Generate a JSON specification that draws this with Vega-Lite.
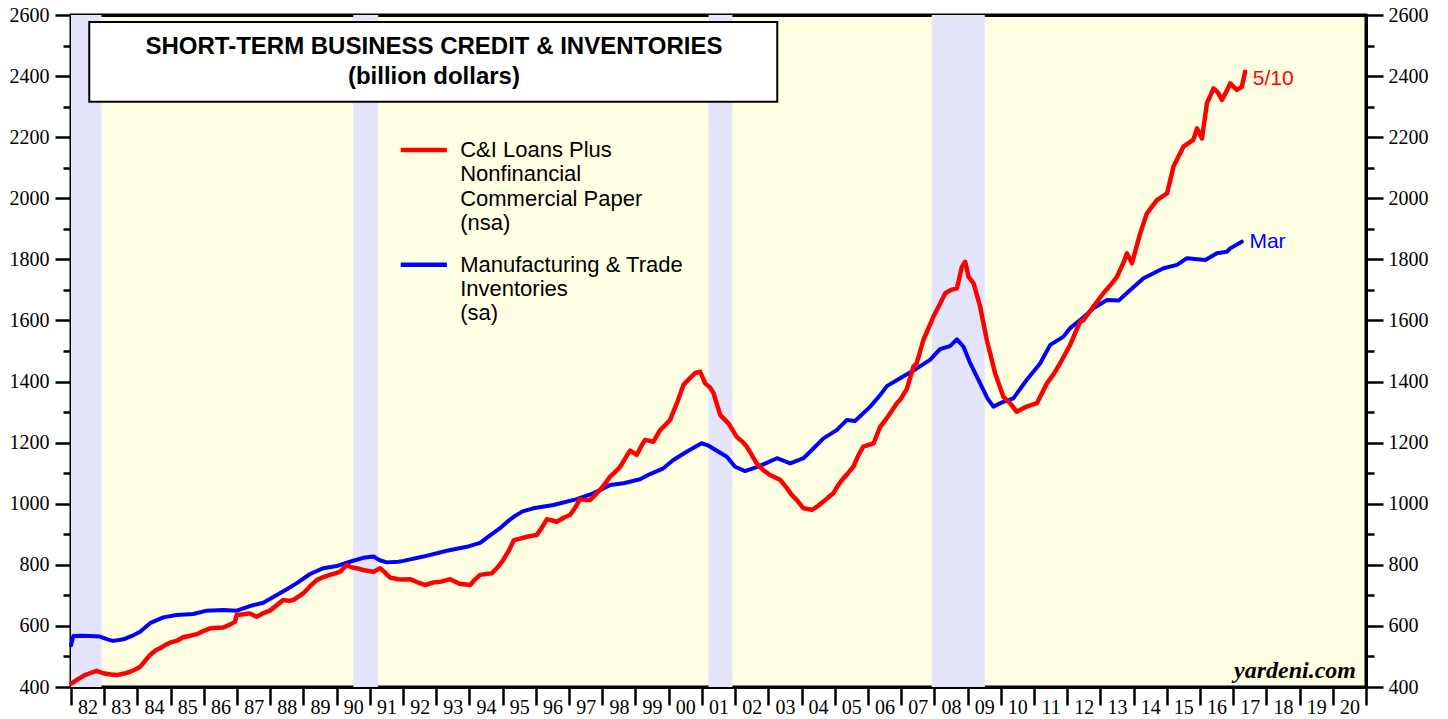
{
  "$schema": "https://vega.github.io/schema/vega-lite/v6.json",
  "width": 1295,
  "height": 672,
  "autosize": {"type": "none"},
  "padding": {"left": 71, "top": 15, "right": 82, "bottom": 32},
  "background": "white",
  "config": {
    "view": {"fill": "#FFFFE3", "stroke": "black", "strokeWidth": 3},
    "axis": {"zindex": 2, "grid": false, "domainColor": "black", "domainWidth": 3, "tickColor": "black", "tickWidth": 2.5, "labelColor": "black", "labelFont": "Liberation Serif", "labelFontSize": 20}
  },
  "resolve": {"axis": {"x": "independent", "y": "independent"}},
  "datasets": {
    "recessions": [
      {"start": 1982.0, "end": 1982.92},
      {"start": 1990.5, "end": 1991.25},
      {"start": 2001.2, "end": 2001.92},
      {"start": 2007.92, "end": 2009.52}
    ],
    "inventories": [
      {"t": 1982.0, "v": 537}, {"t": 1982.07, "v": 567}, {"t": 1982.3, "v": 568}, {"t": 1982.57, "v": 567}, {"t": 1982.87, "v": 565},
      {"t": 1983.1, "v": 556}, {"t": 1983.27, "v": 551}, {"t": 1983.58, "v": 556}, {"t": 1983.85, "v": 568}, {"t": 1984.08, "v": 581},
      {"t": 1984.38, "v": 609}, {"t": 1984.78, "v": 628}, {"t": 1985.18, "v": 636}, {"t": 1985.68, "v": 639}, {"t": 1986.09, "v": 650},
      {"t": 1986.59, "v": 652}, {"t": 1986.99, "v": 650}, {"t": 1987.39, "v": 665}, {"t": 1987.79, "v": 676}, {"t": 1988.2, "v": 701},
      {"t": 1988.5, "v": 720}, {"t": 1988.8, "v": 740}, {"t": 1989.2, "v": 770}, {"t": 1989.6, "v": 789}, {"t": 1990.0, "v": 796},
      {"t": 1990.4, "v": 810}, {"t": 1990.8, "v": 823}, {"t": 1991.11, "v": 827}, {"t": 1991.3, "v": 815}, {"t": 1991.51, "v": 808},
      {"t": 1991.86, "v": 810}, {"t": 1992.01, "v": 813}, {"t": 1992.61, "v": 827}, {"t": 1993.32, "v": 846}, {"t": 1993.92, "v": 859},
      {"t": 1994.32, "v": 872}, {"t": 1994.6, "v": 895}, {"t": 1994.92, "v": 920}, {"t": 1995.15, "v": 942}, {"t": 1995.37, "v": 960},
      {"t": 1995.6, "v": 975}, {"t": 1995.92, "v": 985}, {"t": 1996.53, "v": 996}, {"t": 1997.23, "v": 1015}, {"t": 1997.73, "v": 1034},
      {"t": 1998.23, "v": 1061}, {"t": 1998.64, "v": 1067}, {"t": 1999.14, "v": 1080}, {"t": 1999.44, "v": 1097}, {"t": 1999.84, "v": 1116},
      {"t": 2000.14, "v": 1143}, {"t": 2000.54, "v": 1170}, {"t": 2000.99, "v": 1198}, {"t": 2001.2, "v": 1190}, {"t": 2001.5, "v": 1170},
      {"t": 2001.75, "v": 1154}, {"t": 2002.0, "v": 1121}, {"t": 2002.3, "v": 1107}, {"t": 2002.75, "v": 1124}, {"t": 2003.26, "v": 1149},
      {"t": 2003.66, "v": 1132}, {"t": 2004.06, "v": 1149}, {"t": 2004.35, "v": 1180}, {"t": 2004.66, "v": 1214}, {"t": 2005.06, "v": 1241},
      {"t": 2005.36, "v": 1274}, {"t": 2005.61, "v": 1271}, {"t": 2006.07, "v": 1318}, {"t": 2006.37, "v": 1356}, {"t": 2006.57, "v": 1385},
      {"t": 2006.97, "v": 1411}, {"t": 2007.47, "v": 1443}, {"t": 2007.87, "v": 1471}, {"t": 2008.17, "v": 1506}, {"t": 2008.47, "v": 1516},
      {"t": 2008.68, "v": 1538}, {"t": 2008.88, "v": 1514}, {"t": 2009.08, "v": 1460}, {"t": 2009.38, "v": 1394}, {"t": 2009.6, "v": 1345},
      {"t": 2009.78, "v": 1318}, {"t": 2009.98, "v": 1329}, {"t": 2010.38, "v": 1345}, {"t": 2010.78, "v": 1405}, {"t": 2011.19, "v": 1460},
      {"t": 2011.49, "v": 1520}, {"t": 2011.89, "v": 1547}, {"t": 2012.09, "v": 1575}, {"t": 2012.39, "v": 1601}, {"t": 2012.79, "v": 1640},
      {"t": 2013.2, "v": 1667}, {"t": 2013.55, "v": 1665}, {"t": 2013.9, "v": 1700}, {"t": 2014.3, "v": 1738}, {"t": 2014.9, "v": 1771},
      {"t": 2015.31, "v": 1782}, {"t": 2015.61, "v": 1804}, {"t": 2016.16, "v": 1798}, {"t": 2016.51, "v": 1820}, {"t": 2016.81, "v": 1825},
      {"t": 2016.91, "v": 1836}, {"t": 2017.26, "v": 1858}
    ],
    "credit": [
      {"t": 1982.02, "v": 412}, {"t": 1982.2, "v": 425}, {"t": 1982.4, "v": 438}, {"t": 1982.57, "v": 445}, {"t": 1982.77, "v": 453},
      {"t": 1982.97, "v": 445}, {"t": 1983.2, "v": 441}, {"t": 1983.38, "v": 439}, {"t": 1983.6, "v": 444}, {"t": 1983.78, "v": 450},
      {"t": 1983.95, "v": 458}, {"t": 1984.08, "v": 466}, {"t": 1984.25, "v": 488}, {"t": 1984.38, "v": 505}, {"t": 1984.55, "v": 520},
      {"t": 1984.68, "v": 527}, {"t": 1984.85, "v": 538}, {"t": 1984.98, "v": 545}, {"t": 1985.2, "v": 552}, {"t": 1985.38, "v": 563},
      {"t": 1985.6, "v": 568}, {"t": 1985.79, "v": 573}, {"t": 1986.0, "v": 584}, {"t": 1986.19, "v": 592}, {"t": 1986.4, "v": 594},
      {"t": 1986.59, "v": 595}, {"t": 1986.8, "v": 605}, {"t": 1986.94, "v": 614}, {"t": 1986.99, "v": 636}, {"t": 1987.2, "v": 638},
      {"t": 1987.39, "v": 641}, {"t": 1987.59, "v": 630}, {"t": 1987.8, "v": 642}, {"t": 1987.99, "v": 650}, {"t": 1988.2, "v": 668},
      {"t": 1988.39, "v": 685}, {"t": 1988.55, "v": 682}, {"t": 1988.7, "v": 685}, {"t": 1988.85, "v": 696}, {"t": 1989.0, "v": 707},
      {"t": 1989.2, "v": 730}, {"t": 1989.4, "v": 750}, {"t": 1989.6, "v": 760}, {"t": 1989.8, "v": 767}, {"t": 1990.1, "v": 777},
      {"t": 1990.3, "v": 799}, {"t": 1990.45, "v": 792}, {"t": 1990.6, "v": 789}, {"t": 1990.8, "v": 783}, {"t": 1991.0, "v": 779},
      {"t": 1991.11, "v": 777}, {"t": 1991.31, "v": 789}, {"t": 1991.45, "v": 775}, {"t": 1991.61, "v": 758}, {"t": 1991.86, "v": 753},
      {"t": 1992.0, "v": 752}, {"t": 1992.21, "v": 753}, {"t": 1992.45, "v": 742}, {"t": 1992.66, "v": 734}, {"t": 1992.9, "v": 742},
      {"t": 1993.15, "v": 745}, {"t": 1993.42, "v": 753}, {"t": 1993.7, "v": 738}, {"t": 1994.02, "v": 734}, {"t": 1994.15, "v": 750},
      {"t": 1994.32, "v": 767}, {"t": 1994.5, "v": 770}, {"t": 1994.67, "v": 772}, {"t": 1994.85, "v": 792}, {"t": 1995.02, "v": 816},
      {"t": 1995.2, "v": 850}, {"t": 1995.34, "v": 881}, {"t": 1995.5, "v": 885}, {"t": 1995.73, "v": 892}, {"t": 1996.03, "v": 898},
      {"t": 1996.2, "v": 925}, {"t": 1996.33, "v": 949}, {"t": 1996.5, "v": 945}, {"t": 1996.63, "v": 941}, {"t": 1996.85, "v": 955},
      {"t": 1997.03, "v": 963}, {"t": 1997.2, "v": 990}, {"t": 1997.33, "v": 1015}, {"t": 1997.5, "v": 1012}, {"t": 1997.63, "v": 1012},
      {"t": 1997.8, "v": 1030}, {"t": 1997.93, "v": 1045}, {"t": 1998.1, "v": 1068}, {"t": 1998.23, "v": 1088}, {"t": 1998.4, "v": 1105},
      {"t": 1998.54, "v": 1121}, {"t": 1998.7, "v": 1150}, {"t": 1998.84, "v": 1174}, {"t": 1999.04, "v": 1160}, {"t": 1999.18, "v": 1190},
      {"t": 1999.29, "v": 1209}, {"t": 1999.54, "v": 1203}, {"t": 1999.74, "v": 1241}, {"t": 1999.9, "v": 1258}, {"t": 2000.04, "v": 1274},
      {"t": 2000.25, "v": 1330}, {"t": 2000.45, "v": 1390}, {"t": 2000.64, "v": 1411}, {"t": 2000.8, "v": 1428}, {"t": 2000.95, "v": 1432},
      {"t": 2001.1, "v": 1394}, {"t": 2001.25, "v": 1380}, {"t": 2001.35, "v": 1362}, {"t": 2001.55, "v": 1291}, {"t": 2001.8, "v": 1263},
      {"t": 2002.05, "v": 1219}, {"t": 2002.2, "v": 1205}, {"t": 2002.35, "v": 1187}, {"t": 2002.5, "v": 1160}, {"t": 2002.65, "v": 1132},
      {"t": 2002.85, "v": 1110}, {"t": 2003.05, "v": 1094}, {"t": 2003.36, "v": 1078}, {"t": 2003.56, "v": 1051}, {"t": 2003.7, "v": 1030},
      {"t": 2003.86, "v": 1012}, {"t": 2004.06, "v": 985}, {"t": 2004.31, "v": 980}, {"t": 2004.5, "v": 993}, {"t": 2004.66, "v": 1007},
      {"t": 2004.8, "v": 1020}, {"t": 2004.96, "v": 1034}, {"t": 2005.1, "v": 1060}, {"t": 2005.26, "v": 1083}, {"t": 2005.4, "v": 1100},
      {"t": 2005.56, "v": 1121}, {"t": 2005.72, "v": 1160}, {"t": 2005.86, "v": 1187}, {"t": 2006.17, "v": 1198}, {"t": 2006.37, "v": 1252},
      {"t": 2006.5, "v": 1270}, {"t": 2006.67, "v": 1296}, {"t": 2006.87, "v": 1329}, {"t": 2006.97, "v": 1340}, {"t": 2007.17, "v": 1375},
      {"t": 2007.37, "v": 1449}, {"t": 2007.47, "v": 1460}, {"t": 2007.67, "v": 1536}, {"t": 2007.97, "v": 1612}, {"t": 2008.15, "v": 1650},
      {"t": 2008.33, "v": 1689}, {"t": 2008.5, "v": 1700}, {"t": 2008.68, "v": 1705}, {"t": 2008.83, "v": 1776}, {"t": 2008.93, "v": 1792},
      {"t": 2009.03, "v": 1743}, {"t": 2009.18, "v": 1722}, {"t": 2009.38, "v": 1645}, {"t": 2009.58, "v": 1536}, {"t": 2009.83, "v": 1427},
      {"t": 2010.08, "v": 1350}, {"t": 2010.28, "v": 1329}, {"t": 2010.48, "v": 1301}, {"t": 2010.78, "v": 1318}, {"t": 2011.09, "v": 1329},
      {"t": 2011.39, "v": 1394}, {"t": 2011.6, "v": 1425}, {"t": 2011.79, "v": 1460}, {"t": 2012.09, "v": 1520}, {"t": 2012.39, "v": 1596},
      {"t": 2012.49, "v": 1601}, {"t": 2012.79, "v": 1645}, {"t": 2013.09, "v": 1689}, {"t": 2013.3, "v": 1715}, {"t": 2013.5, "v": 1743},
      {"t": 2013.7, "v": 1790}, {"t": 2013.8, "v": 1820}, {"t": 2013.95, "v": 1787}, {"t": 2014.2, "v": 1885}, {"t": 2014.4, "v": 1950},
      {"t": 2014.7, "v": 1994}, {"t": 2015.01, "v": 2016}, {"t": 2015.2, "v": 2103}, {"t": 2015.5, "v": 2169}, {"t": 2015.8, "v": 2191},
      {"t": 2015.91, "v": 2229}, {"t": 2016.06, "v": 2196}, {"t": 2016.21, "v": 2311}, {"t": 2016.41, "v": 2360}, {"t": 2016.55, "v": 2345},
      {"t": 2016.66, "v": 2322}, {"t": 2016.8, "v": 2350}, {"t": 2016.91, "v": 2376}, {"t": 2017.11, "v": 2355}, {"t": 2017.26, "v": 2365},
      {"t": 2017.36, "v": 2414}
    ],
    "titleBox": [{"x1": 1982.55, "x2": 2003.27, "y1": 2316, "y2": 2577}],
    "titleText": [
      {"x": 1992.93, "y": 2496, "text": "SHORT-TERM BUSINESS CREDIT & INVENTORIES"},
      {"x": 1992.93, "y": 2398, "text": "(billion dollars)"}
    ],
    "legendLines": [
      {"x1": 1991.93, "x2": 1993.32, "y": 2158, "series": "C&I"},
      {"x1": 1991.93, "x2": 1993.32, "y": 1782, "series": "Inv"}
    ],
    "legendText": [
      {"x": 1993.72, "y": 2158, "text": "C&I Loans Plus"},
      {"x": 1993.72, "y": 2079, "text": "Nonfinancial"},
      {"x": 1993.72, "y": 1997, "text": "Commercial Paper"},
      {"x": 1993.72, "y": 1918, "text": "(nsa)"},
      {"x": 1993.72, "y": 1782, "text": "Manufacturing & Trade"},
      {"x": 1993.72, "y": 1702, "text": "Inventories"},
      {"x": 1993.72, "y": 1623, "text": "(sa)"}
    ],
    "endRed": [{"x": 2017.59, "y": 2390, "text": "5/10"}],
    "endBlue": [{"x": 2017.49, "y": 1856, "text": "Mar"}],
    "credit_src": [{"x": 2020.7, "y": 430, "text": "yardeni.com"}]
  },
  "layer": [
    {
      "data": {"name": "recessions"},
      "mark": {"type": "rect", "fill": "#E4E4FA"},
      "encoding": {
        "x": {
          "field": "start", "type": "quantitative",
          "scale": {"domain": [1982, 2021], "nice": false, "zero": false},
          "title": null,
          "axis": {
            "orient": "bottom",
            "values": [1982,1983,1984,1985,1986,1987,1988,1989,1990,1991,1992,1993,1994,1995,1996,1997,1998,1999,2000,2001,2002,2003,2004,2005,2006,2007,2008,2009,2010,2011,2012,2013,2014,2015,2016,2017,2018,2019,2020,2021],
            "tickSize": 18,
            "labelOffset": 16.6,
            "labelPadding": -8,
            "labelAlign": "center",
            "labelBaseline": "top",
            "labelOverlap": false,
            "labelBound": false,
            "labelFlush": false,
            "labelExpr": "datum.value >= 2021 ? '' : slice('0' + (datum.value % 100), -2)"
          }
        },
        "x2": {"field": "end"}
      }
    },
    {
      "data": {"name": "titleBox"},
      "mark": {"type": "rect", "fill": "white", "stroke": "black", "strokeWidth": 2},
      "encoding": {
        "x": {"field": "x1", "type": "quantitative", "title": null, "axis": {"orient": "top", "ticks": false, "labels": false, "domainWidth": 3}},
        "x2": {"field": "x2"},
        "y": {"field": "y1", "type": "quantitative", "title": null, "scale": {"domain": [400, 2600], "nice": false, "zero": false}, "axis": null},
        "y2": {"field": "y2"}
      }
    },
    {
      "data": {"name": "inventories"},
      "mark": {"type": "line", "color": "#0000FF", "strokeWidth": 4, "strokeJoin": "round", "strokeCap": "round"},
      "encoding": {
        "x": {"field": "t", "type": "quantitative", "axis": null},
        "y": {
          "field": "v", "type": "quantitative", "title": null,
          "axis": {
            "orient": "left",
            "values": [400,500,600,700,800,900,1000,1100,1200,1300,1400,1500,1600,1700,1800,1900,2000,2100,2200,2300,2400,2500,2600],
            "format": "d",
            "labelExpr": "datum.value % 200 === 0 ? datum.label : ''",
            "tickSize": {"condition": {"test": "datum.value % 200 === 0", "value": 16}, "value": 8},
            "labelPadding": 6,
            "labelBaseline": "middle",
            "labelOverlap": false,
            "labelBound": false,
            "labelFlush": false
          }
        }
      }
    },
    {
      "data": {"name": "credit"},
      "mark": {"type": "line", "color": "#FF0000", "strokeWidth": 4.5, "strokeJoin": "round", "strokeCap": "round"},
      "encoding": {
        "x": {"field": "t", "type": "quantitative", "axis": null},
        "y": {
          "field": "v", "type": "quantitative", "title": null,
          "axis": {
            "orient": "right",
            "values": [400,500,600,700,800,900,1000,1100,1200,1300,1400,1500,1600,1700,1800,1900,2000,2100,2200,2300,2400,2500,2600],
            "format": "d",
            "labelExpr": "datum.value % 200 === 0 ? datum.label : ''",
            "tickSize": {"condition": {"test": "datum.value % 200 === 0", "value": 17}, "value": 8},
            "labelPadding": 5,
            "labelBaseline": "middle",
            "labelOverlap": false,
            "labelBound": false,
            "labelFlush": false
          }
        }
      }
    },
    {
      "data": {"name": "titleText"},
      "mark": {"type": "text", "font": "Liberation Sans", "fontWeight": "bold", "fontSize": 24, "align": "center", "baseline": "middle", "color": "black"},
      "encoding": {
        "x": {"field": "x", "type": "quantitative", "axis": null},
        "y": {"field": "y", "type": "quantitative", "axis": null},
        "text": {"field": "text"}
      }
    },
    {
      "data": {"name": "legendLines"},
      "mark": {"type": "rule", "strokeWidth": 4.5},
      "encoding": {
        "x": {"field": "x1", "type": "quantitative", "axis": null},
        "x2": {"field": "x2"},
        "y": {"field": "y", "type": "quantitative", "axis": null},
        "color": {"field": "series", "type": "nominal", "scale": {"domain": ["C&I", "Inv"], "range": ["#FF0000", "#0000FF"]}, "legend": null}
      }
    },
    {
      "data": {"name": "legendText"},
      "mark": {"type": "text", "font": "Liberation Sans", "fontSize": 22, "align": "left", "baseline": "middle", "color": "black"},
      "encoding": {
        "x": {"field": "x", "type": "quantitative", "axis": null},
        "y": {"field": "y", "type": "quantitative", "axis": null},
        "text": {"field": "text"}
      }
    },
    {
      "data": {"name": "endRed"},
      "mark": {"type": "text", "font": "Liberation Sans", "fontSize": 21, "align": "left", "baseline": "middle", "color": "#FF0000"},
      "encoding": {
        "x": {"field": "x", "type": "quantitative", "axis": null},
        "y": {"field": "y", "type": "quantitative", "axis": null},
        "text": {"field": "text"}
      }
    },
    {
      "data": {"name": "endBlue"},
      "mark": {"type": "text", "font": "Liberation Sans", "fontSize": 21, "align": "left", "baseline": "middle", "color": "#0000FF"},
      "encoding": {
        "x": {"field": "x", "type": "quantitative", "axis": null},
        "y": {"field": "y", "type": "quantitative", "axis": null},
        "text": {"field": "text"}
      }
    },
    {
      "data": {"name": "credit_src"},
      "mark": {"type": "text", "font": "Liberation Serif", "fontWeight": "bold", "fontStyle": "italic", "fontSize": 24, "align": "right", "baseline": "alphabetic", "color": "black"},
      "encoding": {
        "x": {"field": "x", "type": "quantitative", "axis": null},
        "y": {"field": "y", "type": "quantitative", "axis": null},
        "text": {"field": "text"}
      }
    }
  ]
}
